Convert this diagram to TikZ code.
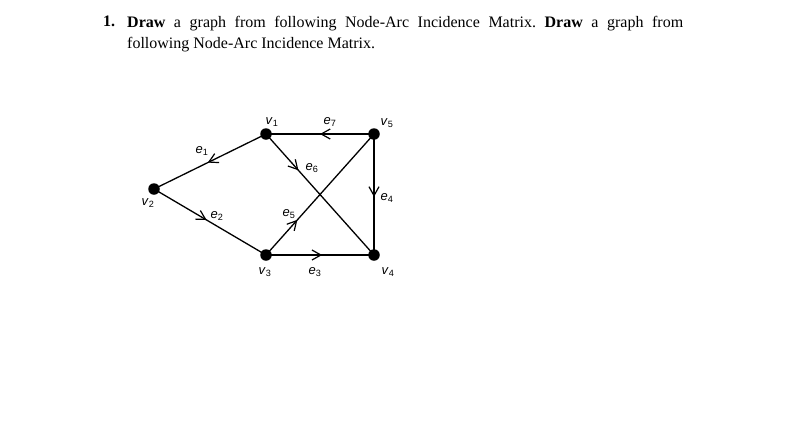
\documentclass[tikz,border=0pt]{standalone}
\usepackage{fontspec}
\setmainfont{Liberation Serif}
\setsansfont{Liberation Sans}
\usetikzlibrary{arrows.meta,decorations.markings}
\frenchspacing

\newcommand\vname[1]{\textit{v}\textsubscript{#1}}
\newcommand\ename[1]{\textit{e}\textsubscript{#1}}

\tikzset{
  vtx/.style={circle,fill=black,inner sep=0pt,minimum size=11.5pt},
  lbl/.style={font=\sffamily\fontsize{13}{15}\selectfont,inner sep=0pt},
  midarrow/.style={line width=1.3pt,postaction={decorate},
    decoration={markings,mark=at position #1 with
      {\arrow{Straight Barb[length=9pt,width=10pt,line width=1.2pt]}}}},
}

\begin{document}
\begin{tikzpicture}[x=1pt,y=-1pt]
		\useasboundingbox[fill=white] (0,0) rectangle (791,445);
		
		%%%%% TASK %%%%%
		
		\node[anchor=base west,inner sep=0pt,font=\bfseries\fontsize{16}{21.7}\selectfont] (num) at (103,26.7) {1.};
		\node[anchor=north west,inner sep=0pt,text width=556pt,align=justify,font=\fontsize{16}{21.7}\selectfont] (task) at (127,15.8)
			{\textbf{Draw} a graph from following Node-Arc Incidence Matrix. \textbf{Draw} a graph from\linebreak following Node-Arc Incidence Matrix.};
		
		%%%%% GRAPH %%%%%
		
		\node[vtx] (v1) at (266,134) {};
		\node[vtx] (v2) at (154,189) {};
		\node[vtx] (v3) at (266,255) {};
		\node[vtx] (v4) at (374,255) {};
		\node[vtx] (v5) at (374,134) {};
		
		\draw[midarrow=0.52] (v1.center) -- (v2.center);
		\draw[midarrow=0.47] (v2.center) -- (v3.center);
		\draw[midarrow=0.52] (v3.center) -- (v4.center);
		\draw[midarrow=0.52] (v5.center) -- (v4.center);
		\draw[midarrow=0.29] (v3.center) -- (v5.center);
		\draw[midarrow=0.3] (v1.center) -- (v4.center);
		\draw[midarrow=0.5] (v5.center) -- (v1.center);
		
		\node[lbl] (l1) at (272,122) {\vname{1}};
		\node[lbl] (l2) at (148,203) {\vname{2}};
		\node[lbl] (l3) at (265,272) {\vname{3}};
		\node[lbl] (l4) at (388,272) {\vname{4}};
		\node[lbl] (l5) at (387,123) {\vname{5}};
		
		\node[lbl] (e1) at (202,151) {\ename{1}};
		\node[lbl] (e2) at (217,216) {\ename{2}};
		\node[lbl] (e3) at (315,272) {\ename{3}};
		\node[lbl] (e4) at (387,198) {\ename{4}};
		\node[lbl] (e5) at (289,214) {\ename{5}};
		\node[lbl] (e6) at (312,168) {\ename{6}};
		\node[lbl] (e7) at (330,122) {\ename{7}};
		
		%%%%% END %%%%%
	\end{tikzpicture}
\end{document}
